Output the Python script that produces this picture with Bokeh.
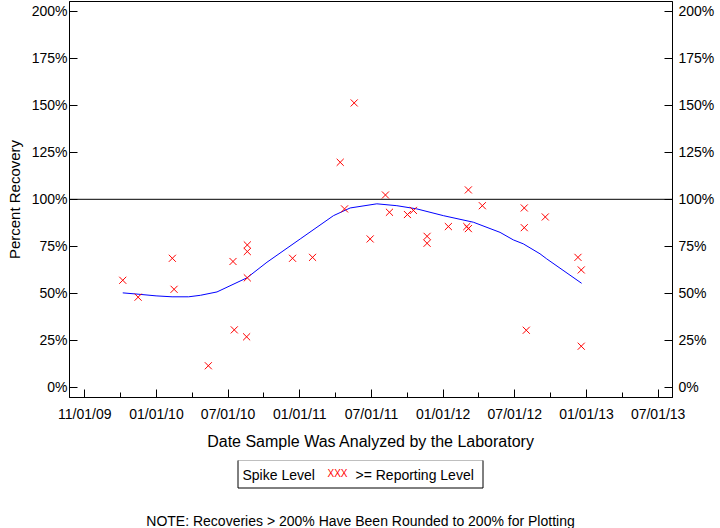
from bokeh.plotting import figure
from bokeh.layouts import column
from bokeh.models import (Range1d, LinearAxis, FixedTicker, PrintfTickFormatter, Span)
from bokeh.core.properties import value
from bokeh.embed import file_html
from bokeh.resources import INLINE

FONT = "Liberation Sans"

# x axis: evenly spaced tick positions with date labels
tick_labels = ["11/01/09", "01/01/10", "07/01/10", "01/01/11", "07/01/11",
               "01/01/12", "07/01/12", "01/01/13", "07/01/13"]
y_ticks = [0, 25, 50, 75, 100, 125, 150, 175, 200]

# recovery points (x in tick-interval units, y in percent)
pt_x = [0.530, 0.744, 1.222, 1.246, 1.724, 2.068, 2.086, 2.268, 2.268, 2.268,
        2.258, 2.899, 3.178, 3.564, 3.624, 3.759, 3.982, 4.195, 4.251, 4.502,
        4.585, 4.776, 4.776, 5.073, 5.330, 5.352, 5.352, 5.547, 6.132, 6.132,
        6.160, 6.425, 6.881, 6.927, 6.927]
pt_y = [56.9, 47.9, 68.6, 52.1, 11.4, 66.9, 30.5, 75.7, 72.2, 58.2,
        26.8, 68.6, 69.1, 119.7, 94.9, 151.3, 78.9, 102.3, 93.1, 91.9,
        94.1, 80.3, 76.6, 85.5, 85.5, 84.4, 105.0, 96.6, 95.4, 84.9,
        30.3, 90.6, 69.1, 62.4, 21.8]

# smoothed trend
fit_x = [0.530, 0.744, 0.995, 1.218, 1.449, 1.613, 1.845, 2.263, 2.542, 3.006,
         3.470, 3.703, 4.075, 4.354, 4.633, 5.003, 5.422, 5.794, 5.979, 6.118,
         6.351, 6.445, 6.932]
fit_y = [50.2, 49.5, 48.6, 48.1, 48.1, 48.9, 50.7, 58.2, 66.5, 78.9,
         91.3, 95.4, 97.6, 96.6, 94.9, 91.3, 87.8, 82.4, 78.4, 76.3,
         71.0, 68.3, 55.3]

legend_title = "Spike Level"
legend_marks = "XXX"
legend_item = ">= Reporting Level"
note_text = "NOTE: Recoveries > 200% Have Been Rounded to 200% for Plotting"

X0, X1 = -0.213, 8.2
Y0, Y1 = -5.5, 205.3
H1 = 460
FL, FR = 69, 672

p = figure(width=720, height=H1, output_backend="svg", toolbar_location=None,
           x_range=Range1d(X0, X1), y_range=Range1d(Y0, Y1),
           x_axis_location=None, y_axis_location=None,
           min_border_left=FL, min_border_right=720 - FR, min_border_top=1,
           min_border_bottom=H1 - 397)
p.grid.visible = False
p.outline_line_color = "black"
p.outline_line_width = 1
p.background_fill_color = "white"
p.border_fill_color = "white"

def style_axis(ax, size="14px"):
    ax.major_label_text_font = FONT
    ax.major_label_text_font_size = size
    ax.major_label_text_color = "black"
    ax.axis_line_color = "black"
    ax.major_tick_line_color = "black"
    ax.minor_tick_line_color = "black"
    ax.axis_label_text_font = FONT
    ax.axis_label_text_font_style = "normal"
    ax.axis_label_text_color = "black"

xax = LinearAxis(ticker=FixedTicker(ticks=list(range(len(tick_labels))),
                                    minor_ticks=[i + 0.5 for i in range(len(tick_labels) - 1)]),
                 major_label_overrides={i: t for i, t in enumerate(tick_labels)},
                 axis_label="Date Sample Was Analyzed by the Laboratory")
style_axis(xax)
xax.major_tick_in = 8
xax.major_tick_out = 0
xax.minor_tick_in = 5
xax.minor_tick_out = 0
xax.major_label_standoff = 8
xax.axis_label_text_font_size = "16px"
xax.axis_label_standoff = 8
p.add_layout(xax, "below")

yl = LinearAxis(ticker=FixedTicker(ticks=y_ticks, minor_ticks=[]),
                formatter=PrintfTickFormatter(format="%d%%"),
                axis_label="Percent Recovery")
style_axis(yl)
yl.major_tick_in = 8
yl.major_tick_out = 0
yl.major_label_standoff = 2
yl.axis_label_text_font_size = "15px"
yl.axis_label_standoff = 6
p.add_layout(yl, "left")

yr = LinearAxis(ticker=FixedTicker(ticks=y_ticks, minor_ticks=[]),
                formatter=PrintfTickFormatter(format="%d%%"))
style_axis(yr)
yr.major_tick_in = 8
yr.major_tick_out = 0
yr.major_label_standoff = 6
p.add_layout(yr, "right")

p.add_layout(Span(location=100, dimension="width", line_color="black", line_width=1))

p.line(fit_x, fit_y, line_color="blue", line_width=1)
p.scatter(pt_x, pt_y, marker="x", size=10, line_color="red", line_width=1)

# lower panel: legend box and note; its frame lines up with the main frame,
# so the x range is expressed in window pixels over that span
H2 = 528 - H1
q = figure(width=720, height=H2, output_backend="svg", toolbar_location=None,
           x_range=Range1d(FL, FR), y_range=Range1d(H2, 0),
           x_axis_location=None, y_axis_location=None,
           min_border_left=FL, min_border_right=720 - FR,
           min_border_top=0, min_border_bottom=0)
q.grid.visible = False
q.outline_line_color = None
q.background_fill_color = "white"
q.border_fill_color = "white"

q.quad(left=[237.5], right=[482.5], top=[459.5 - H1], bottom=[487.5 - H1],
       fill_color=None, line_color="black", line_width=1)
q.text(x=[242], y=[474 - H1], text=[legend_title], text_font=value(FONT),
       text_font_size="14px", text_baseline="middle", text_color="black")
q.text(x=[327], y=[472.5 - H1], text=[legend_marks], text_font=value(FONT),
       text_font_size="10px", text_baseline="middle", text_color="red")
q.text(x=[355], y=[474 - H1], text=[legend_item], text_font=value(FONT),
       text_font_size="14px", text_baseline="middle", text_color="black")
q.text(x=[360], y=[520 - H1], text=[note_text], text_font=value(FONT),
       text_font_size="14px", text_baseline="middle", text_align="center",
       text_color="black")

open("out.html", "w").write(file_html(column(p, q, spacing=0), INLINE))
